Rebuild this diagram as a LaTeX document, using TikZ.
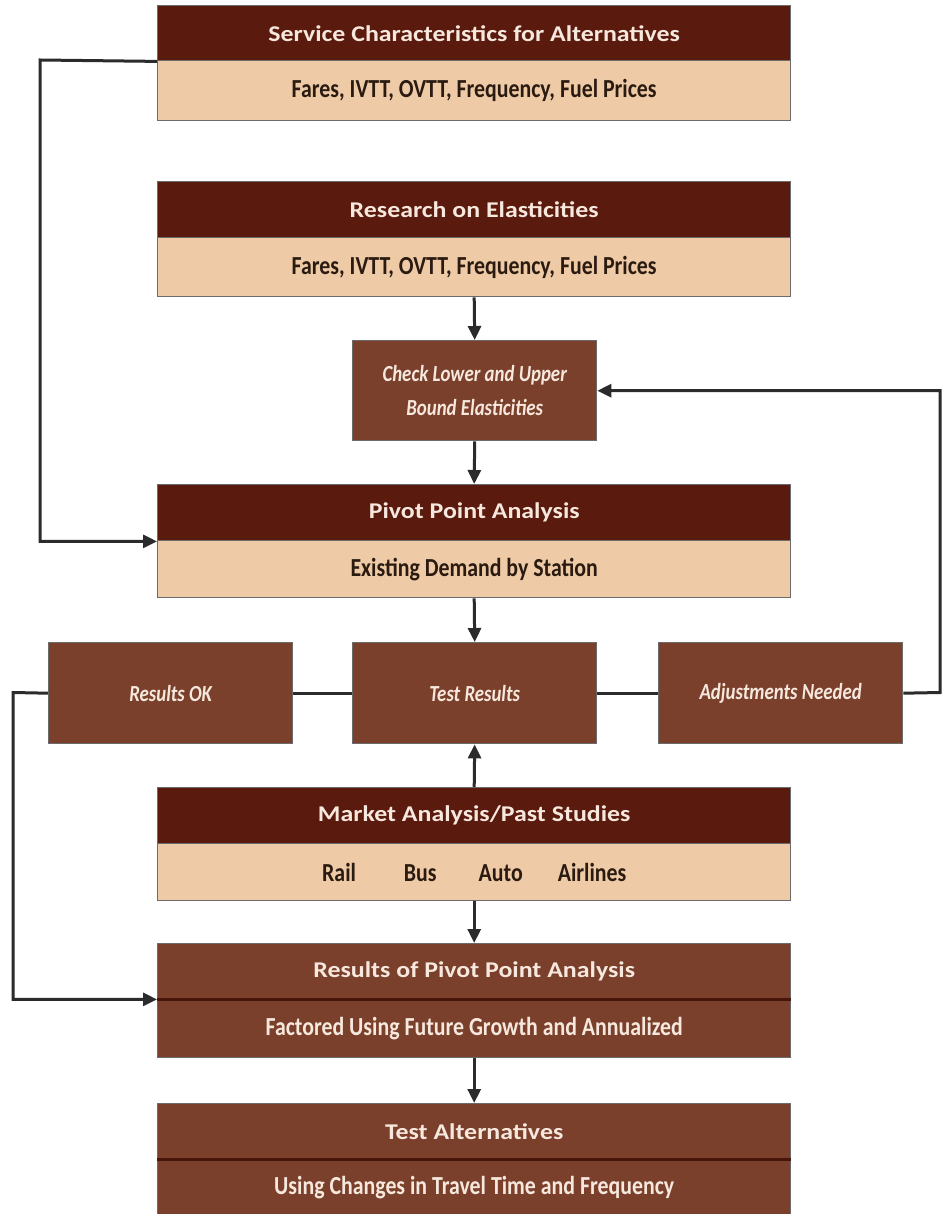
\documentclass[tikz,border=0pt]{standalone}
\usepackage{fontspec}
\setmainfont{Carlito}
\newfontfamily\hdfont[FakeStretch=1.15]{Carlito}
\newfontfamily\bdfont[FakeStretch=0.84]{Carlito}
\newfontfamily\itfont[FakeStretch=0.82]{Carlito}
\usetikzlibrary{arrows.meta}
\definecolor{hdrc}{HTML}{5A1A0D}
\definecolor{tanc}{HTML}{EECBA6}
\definecolor{mbrown}{HTML}{7A402B}
\definecolor{lnc}{HTML}{2B2B2B}
\definecolor{ltxt}{HTML}{F7E8DE}
\definecolor{dtxt}{HTML}{2A1A10}
\tikzset{
  box/.style={draw=lnc!70, line width=1.4pt, inner sep=0pt, anchor=north west, minimum width=633pt},
  hd/.style={box, fill=hdrc, text=ltxt, font=\hdfont\bfseries\fontsize{22.5}{22.5}\selectfont},
  bd/.style={box, fill=tanc, text=dtxt, font=\bdfont\bfseries\fontsize{26}{26}\selectfont},
  mb/.style={box, fill=mbrown, text=ltxt, font=\hdfont\bfseries\fontsize{22.5}{22.5}\selectfont},
  mbs/.style={box, fill=mbrown, text=ltxt, font=\bdfont\bfseries\fontsize{26}{26}\selectfont},
  small/.style={draw=lnc!70, line width=1.4pt, fill=mbrown, text=ltxt, anchor=north west,
    minimum width=244pt, minimum height=101pt, inner sep=0pt, align=center,
    font=\itfont\bfseries\itshape\fontsize{23}{34}\selectfont},
  conn/.style={line width=3pt, draw=lnc},
  arr/.style={conn, -{Triangle[length=14pt,width=13pt]}}
}
\begin{document}
\begin{tikzpicture}[x=1pt,y=-1pt]
\useasboundingbox[fill=white] (0,0) rectangle (946,1214);
% Service characteristics
\node[hd, minimum height=55pt] (s1h) at (157,5) {Service Characteristics for Alternatives};
\node[bd, minimum height=60pt] (s1b) at (157,60) {Fares, IVTT, OVTT, Frequency, Fuel Prices};
% Research
\node[hd, minimum height=56pt] (rsh) at (157,181) {Research on Elasticities};
\node[bd, minimum height=59pt] (rsb) at (157,237) {Fares, IVTT, OVTT, Frequency, Fuel Prices};
% Check
\node[small, minimum height=100pt] (chk) at (352,340) {Check Lower and Upper\\Bound Elasticities};
% Pivot
\node[hd, minimum height=56pt] (pvh) at (157,484) {Pivot Point Analysis};
\node[bd, minimum height=57pt] (pvb) at (157,540) {Existing Demand by Station};
% Row
\node[small] (ok) at (48,642) {Results OK};
\node[small] (test) at (352,642) {Test Results};
\node[small] (adj) at (658,642) {Adjustments Needed};
% Market
\node[hd, minimum height=56pt] (mkh) at (157,787) {Market Analysis/Past Studies};
\node[bd, minimum height=57pt] (mkb) at (157,843) {Rail\hspace{48pt}Bus\hspace{42pt}Auto\hspace{35pt}Airlines\hspace{12pt}};
% Results of pivot
\node[mb, minimum height=55pt] (rph) at (157,943) {Results of Pivot Point Analysis};
\node[mbs, minimum height=59pt] (rpb) at (157,998) {Factored Using Future Growth and Annualized};
% Test alternatives
\node[mb, minimum height=55pt] (tah) at (157,1103) {Test Alternatives};
\node[mbs, minimum height=58pt] (tab) at (157,1158) {Using Changes in Travel Time and Frequency};
\draw[draw=hdrc!80!black, line width=2.5pt] (rph.south west) -- (rph.south east);
\draw[draw=hdrc!80!black, line width=2.5pt] (tah.south west) -- (tah.south east);
% coordinates
\coordinate (L1) at (40,60);
\coordinate (L3) at (13,692.5);
\coordinate (R1) at (940,692.5);
% connectors
\draw[arr] (s1h.south west) -- (L1) |- (pvh.south west);
\draw[arr] (rsb.south) -- (chk.north);
\draw[arr] (chk.south) -- (pvh.north);
\draw[arr] (pvb.south) -- (test.north);
\draw[conn] (ok.east) -- (test.west);
\draw[conn] (test.east) -- (adj.west);
\draw[arr] (adj.east) -- (R1) |- (chk.east);
\draw[arr] (ok.west) -- (L3) |- (rph.south west);
\draw[arr] (mkh.north) -- (test.south);
\draw[arr] (mkb.south) -- (rph.north);
\draw[arr] (rpb.south) -- (tah.north);
\end{tikzpicture}
\end{document}
